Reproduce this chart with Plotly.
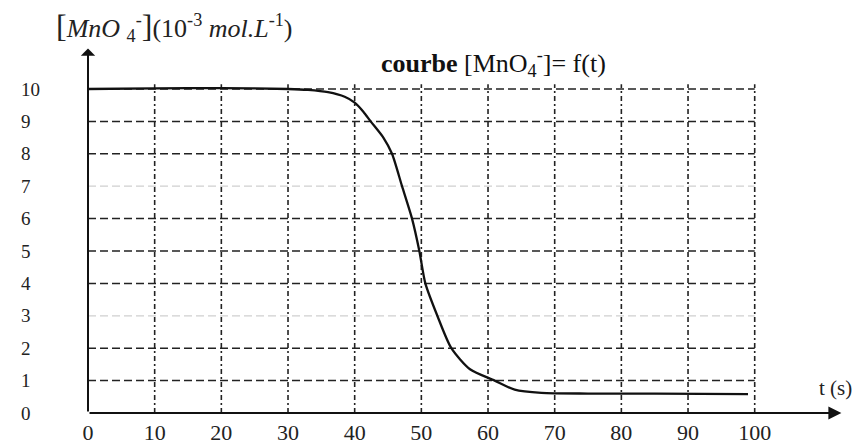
import plotly.graph_objects as go

# ---- data ----
t_s = [0, 10, 20, 30, 33, 36, 38.5, 40, 41.3, 42.4, 44.3, 45.6, 47.1, 48.6, 49.7, 50.6, 52.4, 54.5, 57.3, 61, 64, 68, 75, 85, 99]
mno4 = [10.0, 10.02, 10.03, 10.0, 9.97, 9.9, 9.76, 9.58, 9.3, 9.0, 8.5, 8.0, 7.0, 6.0, 5.0, 4.0, 3.0, 2.0, 1.35, 1.0, 0.72, 0.62, 0.6, 0.6, 0.58]

x_ticks = [0, 10, 20, 30, 40, 50, 60, 70, 80, 90, 100]
y_ticks = [0, 1, 2, 3, 4, 5, 6, 7, 8, 9, 10]
h_grid_dark = [1, 2, 4, 5, 6, 8, 9, 10]
h_grid_faint = [3, 7]
v_grid = [10, 20, 30, 40, 50, 60, 70, 80, 90, 100]
x_end, y_end = 100, 10
x_arrow, y_arrow = 113, 11.25
v_grid_top = 10.15

FONT = "Liberation Serif"
W, H = 853, 445
px_per_x = 6.667
px_per_y = 32.4
x0_px, y0_px = 88, 413

xr = [-x0_px / px_per_x, (W - x0_px) / px_per_x]
yr = [-(H - y0_px) / px_per_y, y0_px / px_per_y]


def hlines(vals, x1):
    xs, ys = [], []
    for v in vals:
        xs += [0, x1, None]
        ys += [v, v, None]
    return xs, ys


def vlines(vals, y1):
    xs, ys = [], []
    for v in vals:
        xs += [v, v, None]
        ys += [0, y1, None]
    return xs, ys


fig = go.Figure()

hx, hy = hlines(h_grid_dark, x_end)
fig.add_trace(go.Scatter(x=hx, y=hy, mode="lines", hoverinfo="skip",
                         line=dict(color="#222", width=1.5, dash="8px,4px")))
hx, hy = hlines(h_grid_faint, x_end)
fig.add_trace(go.Scatter(x=hx, y=hy, mode="lines", hoverinfo="skip",
                         line=dict(color="#cfcfcf", width=1.2, dash="8px,4px")))
vx, vy = vlines(v_grid, v_grid_top)
fig.add_trace(go.Scatter(x=vx, y=vy, mode="lines", hoverinfo="skip",
                         line=dict(color="#222", width=1.6, dash="5px,3px,2px,3px")))

# data curve
fig.add_trace(go.Scatter(x=t_s, y=mno4, mode="lines",
                         line=dict(color="#111", width=2.3, shape="spline", smoothing=0.7)))

# axes with arrows
fig.add_annotation(x=x_arrow, y=0, ax=0, ay=0, xref="x", yref="y", axref="x", ayref="y",
                   text="", showarrow=True, arrowhead=2, arrowsize=1.3, arrowwidth=2, arrowcolor="#111")
fig.add_annotation(x=0, y=y_arrow, ax=0, ay=0, xref="x", yref="y", axref="x", ayref="y",
                   text="", showarrow=True, arrowhead=1, arrowsize=1.2, arrowwidth=2, arrowcolor="#111")

# texts
fig.add_annotation(x=174 / W, y=1 - 27 / H, xref="paper", yref="paper", showarrow=False,
                   xanchor="center", yanchor="middle",
                   text="<span style='font-size:32px'>[</span><i>MnO</i> <sub>4</sub><sup>-</sup>"
                        "<span style='font-size:32px'>]</span>(10<sup>-3</sup> <i>mol.L</i><sup>-1</sup>)",
                   font=dict(family=FONT, size=26, color="#222"))
fig.add_annotation(x=493 / W, y=1 - 63 / H, xref="paper", yref="paper", showarrow=False,
                   xanchor="center", yanchor="middle",
                   text="<b>courbe</b> [MnO<sub>4</sub><sup>-</sup>]= f(t)",
                   font=dict(family=FONT, size=26, color="#111"))
fig.add_annotation(x=835 / W, y=1 - 388 / H, xref="paper", yref="paper", showarrow=False,
                   xanchor="center", yanchor="middle",
                   text="t (s)", font=dict(family=FONT, size=21, color="#222"))

fig.update_layout(
    width=W, height=H, margin=dict(l=0, r=0, t=0, b=0),
    paper_bgcolor="white", plot_bgcolor="white", showlegend=False,
    xaxis=dict(range=xr, showgrid=False, zeroline=False, showline=False,
               tickmode="array", tickvals=x_ticks, ticktext=[str(v) for v in x_ticks],
               ticks="", ticklabelposition="inside", ticklabeloverflow="allow",
               ticklabelstandoff=-2,
               tickfont=dict(family=FONT, size=22, color="#222")),
    yaxis=dict(range=yr, showgrid=False, zeroline=False, showline=False,
               tickmode="array", tickvals=y_ticks, ticktext=[str(v) for v in y_ticks],
               ticks="", ticklabelposition="inside", ticklabeloverflow="allow",
               ticklabelstandoff=18,
               tickfont=dict(family=FONT, size=19, color="#222")),
)

fig.write_html("out.html")
